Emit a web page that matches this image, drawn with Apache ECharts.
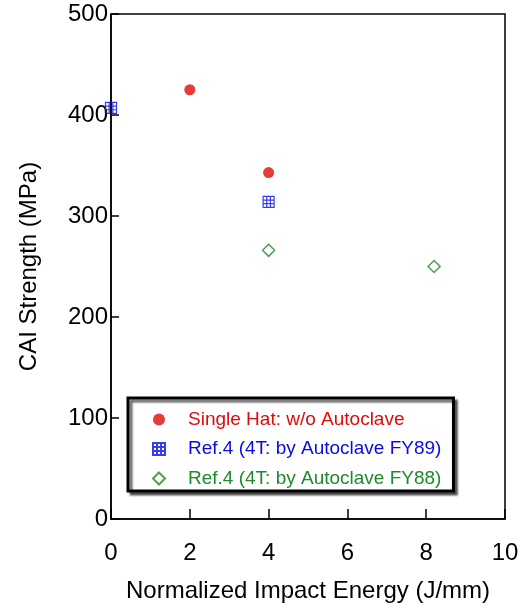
<!DOCTYPE html>
<html>
<head>
<meta charset="utf-8">
<script src="https://cdn.jsdelivr.net/npm/echarts@6/dist/echarts.min.js"></script>
<style>
  html, body { margin: 0; padding: 0; background: #fff; }
  #chart { width: 527px; height: 608px; }
</style>
</head>
<body>
<div id="chart"></div>
<script>
// data
var seriesNames = ['Single Hat: w/o Autoclave', 'Ref.4 (4T: by Autoclave FY89)', 'Ref.4 (4T: by Autoclave FY88)'];
var singleHat = [[2, 425], [4, 343]];
var fy89 = [[0, 407], [4, 314]];
var fy88 = [[4, 266], [8.2, 250]];
var xTicks = [0, 10, 2];   // min, max, interval
var yTicks = [0, 500, 100];

var red = '#e00a0a', blue = '#0a0ae6', green = '#1d8a2b';
var gridSym = 'path://M0,0H6V6H0Z M2,0V6 M4,0V6 M0,2H6 M0,4H6';

var font = 'Liberation Sans, Arial, sans-serif';

var option = {
  backgroundColor: '#fff',
  animation: false,
  grid: {
    left: 111, right: 22, top: 14, bottom: 89,
    show: true, borderColor: '#000', borderWidth: 1.5
  },
  xAxis: {
    type: 'value',
    min: xTicks[0], max: xTicks[1], interval: xTicks[2],
    name: 'Normalized Impact Energy (J/mm)',
    nameLocation: 'middle', nameGap: 60,
    nameTextStyle: { fontFamily: font, fontSize: 24, color: '#000' },
    axisLine: { lineStyle: { color: '#000', width: 1.5 } },
    axisTick: { inside: true, length: 10, lineStyle: { color: '#000', width: 1.5 } },
    axisLabel: { margin: 22, fontFamily: font, fontSize: 24, color: '#000' },
    splitLine: { show: false }
  },
  yAxis: {
    type: 'value',
    min: yTicks[0], max: yTicks[1], interval: yTicks[2],
    name: 'CAI Strength (MPa)',
    nameLocation: 'middle', nameGap: 70,
    nameTextStyle: { fontFamily: font, fontSize: 24, color: '#000' },
    axisLine: { lineStyle: { color: '#000', width: 1.5 } },
    axisTick: { inside: true, length: 8, lineStyle: { color: '#000', width: 1.5 } },
    axisLabel: { margin: 3, fontFamily: font, fontSize: 24, color: '#000' },
    splitLine: { show: false }
  },
  legend: {
    orient: 'vertical',
    left: 128, top: 398,
    padding: [12, 12, 3, 24],
    itemGap: 10.5,
    itemWidth: 12, itemHeight: 12,
    backgroundColor: '#fff',
    borderColor: '#000', borderWidth: 3,
    shadowColor: 'rgba(0,0,0,0.6)', shadowBlur: 2, shadowOffsetX: 3, shadowOffsetY: 3,
    textStyle: { fontFamily: font, fontSize: 19, padding: [0, 0, 0, 18] },
    data: [
      { name: seriesNames[0], textStyle: { color: red } },
      { name: seriesNames[1], textStyle: { color: blue } },
      { name: seriesNames[2], textStyle: { color: green } }
    ]
  },
  series: [
    {
      name: seriesNames[0], type: 'scatter', data: singleHat,
      symbol: 'circle', symbolSize: 11,
      itemStyle: { color: red }
    },
    {
      name: seriesNames[1], type: 'scatter', data: fy89,
      symbol: gridSym, symbolSize: 11,
      itemStyle: { color: 'rgba(0,0,0,0)', borderColor: blue, borderWidth: 1.2 }
    },
    {
      name: seriesNames[2], type: 'scatter', data: fy88,
      symbol: 'diamond', symbolSize: 12,
      itemStyle: { color: '#fff', borderColor: green, borderWidth: 1.5 }
    }
  ]
};

var myChart = echarts.init(document.getElementById('chart'));
myChart.setOption(option);
</script>
</body>
</html>
